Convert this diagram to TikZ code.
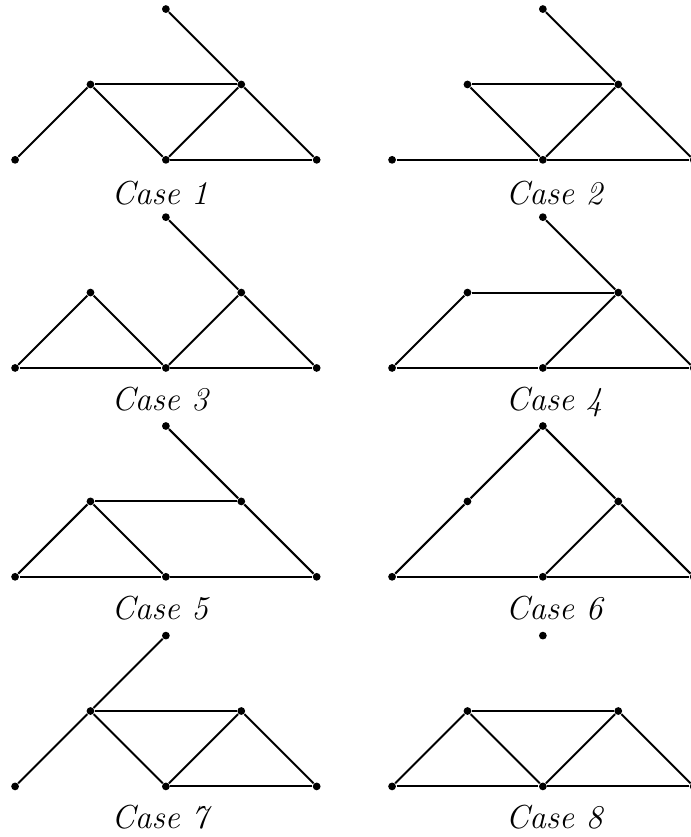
\documentclass[tikz,border=0pt]{standalone}
\newcommand{\sixdots}[1]{%
  \node[dot] (#1p0) at (0,0) {};
  \node[dot] (#1p1) at (1,1) {};
  \node[dot] (#1p2) at (2,0) {};
  \node[dot] (#1p3) at (3,1) {};
  \node[dot] (#1p4) at (2,2) {};
  \node[dot] (#1p5) at (4,0) {};}
\begin{document}
\begin{tikzpicture}[x=27.22pt,y=27.22pt,
  dot/.style={circle,fill=black,inner sep=0pt,minimum size=2.8pt},
  edge/.style={line width=0.72pt},
  caselabel/.style={font=\fontsize{12}{14}\selectfont\itshape,anchor=base}]
\useasboundingbox (0,-11.101) rectangle (9.164,0);
\clip (0,-11.101) rectangle (9.164,0);
% Case 1
\begin{scope}[shift={(0.2,-2.12)}]
\sixdots{a}
\foreach \u/\v in {0/1,1/3,1/2,2/3,3/4,3/5,2/5} \draw[edge] (ap\u) -- (ap\v);
\node[caselabel] (ca) at (1.92,-0.59) {Case 1};
\end{scope}
% Case 2
\begin{scope}[shift={(5.2,-2.12)}]
\sixdots{b}
\foreach \u/\v in {0/2,2/5,1/3,1/2,2/3,3/4,3/5} \draw[edge] (bp\u) -- (bp\v);
\node[caselabel] (cb) at (2.15,-0.59) {Case 2};
\end{scope}
% Case 3
\begin{scope}[shift={(0.2,-4.88)}]
\sixdots{c}
\foreach \u/\v in {0/1,1/2,0/2,2/5,2/3,3/4,3/5} \draw[edge] (cp\u) -- (cp\v);
\node[caselabel] (cc) at (1.92,-0.57) {Case 3};
\end{scope}
% Case 4
\begin{scope}[shift={(5.2,-4.88)}]
\sixdots{d}
\foreach \u/\v in {0/1,1/3,0/2,2/5,2/3,3/4,3/5} \draw[edge] (dp\u) -- (dp\v);
\node[caselabel] (cd) at (2.15,-0.57) {Case 4};
\end{scope}
% Case 5
\begin{scope}[shift={(0.2,-7.65)}]
\sixdots{e}
\foreach \u/\v in {0/1,1/3,1/2,0/2,2/5,3/4,3/5} \draw[edge] (ep\u) -- (ep\v);
\node[caselabel] (ce) at (1.92,-0.57) {Case 5};
\end{scope}
% Case 6
\begin{scope}[shift={(5.2,-7.65)}]
\sixdots{f}
\foreach \u/\v in {0/1,1/4,4/3,3/5,0/2,2/5,2/3} \draw[edge] (fp\u) -- (fp\v);
\node[caselabel] (cf) at (2.15,-0.57) {Case 6};
\end{scope}
% Case 7
\begin{scope}[shift={(0.2,-10.43)}]
\sixdots{g}
\foreach \u/\v in {0/1,1/4,1/3,1/2,2/3,2/5,3/5} \draw[edge] (gp\u) -- (gp\v);
\node[caselabel] (cg) at (1.92,-0.56) {Case 7};
\end{scope}
% Case 8
\begin{scope}[shift={(5.2,-10.43)}]
\sixdots{h}
\foreach \u/\v in {0/1,1/3,3/5,1/2,2/3,0/2,2/5} \draw[edge] (hp\u) -- (hp\v);
\node[caselabel] (ch) at (2.15,-0.56) {Case 8};
\end{scope}
\end{tikzpicture}
\end{document}
